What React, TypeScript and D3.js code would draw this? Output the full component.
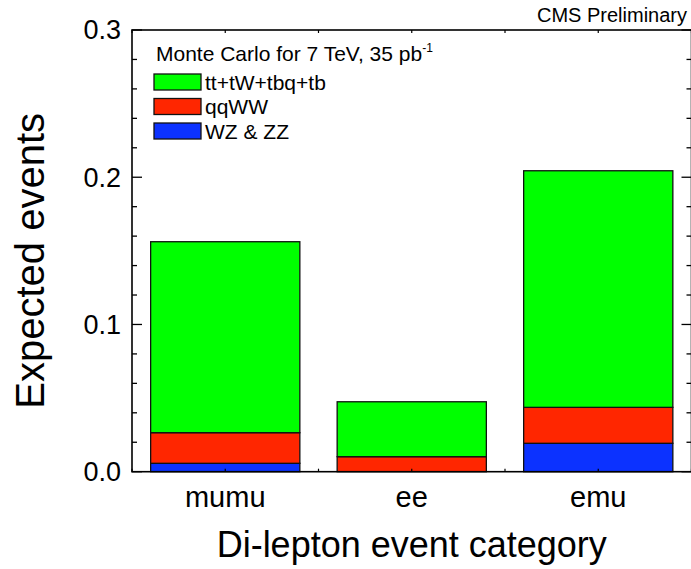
import React from "react";
import * as d3 from "d3";

// Expected event yields per di-lepton category (stacked contributions)
const categories = ["mumu", "ee", "emu"];
const wzzzValues = [0.0057, 0.0, 0.0193];
const qqwwValues = [0.0208, 0.0102, 0.0244];
const topValues = [0.1297, 0.0373, 0.1607];

const seriesNames = ["WZ & ZZ", "qqWW", "tt+tW+tbq+tb"];
const seriesColors = ["#0c32ff", "#ff2600", "#00ff00"];

const yMajorTicks = [0.0, 0.1, 0.2, 0.3];

const W = 691;
const H = 569;
const FONT = "'Liberation Sans', Arial, Helvetica, sans-serif";

const plot = { left: 132, right: 691.5, top: 30, bottom: 471.7 };

export default function App() {
  const x = d3
    .scaleBand<string>()
    .domain(categories)
    .range([plot.left, plot.right])
    .paddingInner(0.2)
    .paddingOuter(0.1);

  const y = d3.scaleLinear().domain([0, 0.3]).range([plot.bottom, plot.top]);

  const rows = categories.map((c, i) => ({
    cat: c,
    wz: wzzzValues[i],
    qq: qqwwValues[i],
    top: topValues[i],
  }));
  const stack = d3.stack<any>().keys(["wz", "qq", "top"]);
  const layers = stack(rows);

  const minorTicks = d3.range(0, 0.3001, 0.02);
  const step = x.step();
  const xTicks = d3.range(0, categories.length * 2 + 1).map(
    (k) => plot.left + (k * step) / 2
  );

  const legendItems = [2, 1, 0];

  return (
    <svg
      width={W}
      height={H}
      style={{ position: "absolute", left: 0, top: 0, background: "#fff" }}
      fontFamily={FONT}
    >
      {/* stacked bars */}
      {layers.map((layer, li) => (
        <g key={li}>
          {layer.map((d, di) => {
            const h = y(d[0]) - y(d[1]);
            if (h <= 0) return null;
            return (
              <rect
                key={di}
                x={x(categories[di])}
                y={y(d[1])}
                width={x.bandwidth()}
                height={h}
                fill={seriesColors[li]}
                stroke="#111"
                strokeWidth={1.3}
              />
            );
          })}
        </g>
      ))}

      {/* frame */}
      <rect
        x={plot.left}
        y={plot.top}
        width={plot.right - plot.left}
        height={plot.bottom - plot.top}
        fill="none"
        stroke="#000"
        strokeWidth={1.6}
      />

      {/* y ticks, left and right, pointing inward */}
      {minorTicks.map((v, i) => {
        const major = Math.abs(v * 10 - Math.round(v * 10)) < 1e-6;
        const len = major ? 10 : 5;
        const yy = y(v);
        return (
          <g key={i} stroke="#000" strokeWidth={1.3}>
            <line x1={plot.left} x2={plot.left + len} y1={yy} y2={yy} />
            <line x1={plot.right} x2={plot.right - len} y1={yy} y2={yy} />
          </g>
        );
      })}

      {/* x ticks top and bottom */}
      {xTicks.map((xx, i) => (
        <g key={i} stroke="#000" strokeWidth={1.2}>
          <line x1={xx} x2={xx} y1={plot.top} y2={plot.top + 3} />
          <line x1={xx} x2={xx} y1={plot.bottom} y2={plot.bottom - 3} />
        </g>
      ))}

      {/* y tick labels */}
      {yMajorTicks.map((v) => (
        <text
          key={v}
          x={121}
          y={y(v)}
          dy="0.35em"
          textAnchor="end"
          fontSize={27}
          fill="#000"
        >
          {d3.format(".1f")(v)}
        </text>
      ))}

      {/* category labels */}
      {categories.map((c) => (
        <text
          key={c}
          x={(x(c) as number) + x.bandwidth() / 2}
          y={507}
          textAnchor="middle"
          fontSize={29}
          fill="#000"
        >
          {c}
        </text>
      ))}

      {/* axis titles */}
      <text
        x={(plot.left + plot.right) / 2}
        y={557}
        textAnchor="middle"
        fontSize={36}
        fill="#000"
      >
        Di-lepton event category
      </text>
      <text
        transform={`translate(44, ${(plot.top + plot.bottom) / 2 + 10}) rotate(-90)`}
        textAnchor="middle"
        fontSize={40}
        fill="#000"
      >
        Expected events
      </text>

      {/* header */}
      <text x={687} y={22} textAnchor="end" fontSize={20} fill="#000">
        CMS Preliminary
      </text>

      {/* legend */}
      <text x={156} y={61} fontSize={21} fill="#000">
        Monte Carlo for 7 TeV, 35 pb
        <tspan dy={-9} fontSize={12}>-1</tspan>
      </text>
      {legendItems.map((si, k) => {
        const top = 74 + k * 24.5;
        return (
          <g key={si}>
            <rect
              x={154}
              y={top}
              width={47}
              height={16}
              fill={seriesColors[si]}
              stroke="#111"
              strokeWidth={1.3}
            />
            <text x={205} y={top + 15.5} fontSize={21} fill="#000">
              {seriesNames[si]}
            </text>
          </g>
        );
      })}
    </svg>
  );
}
